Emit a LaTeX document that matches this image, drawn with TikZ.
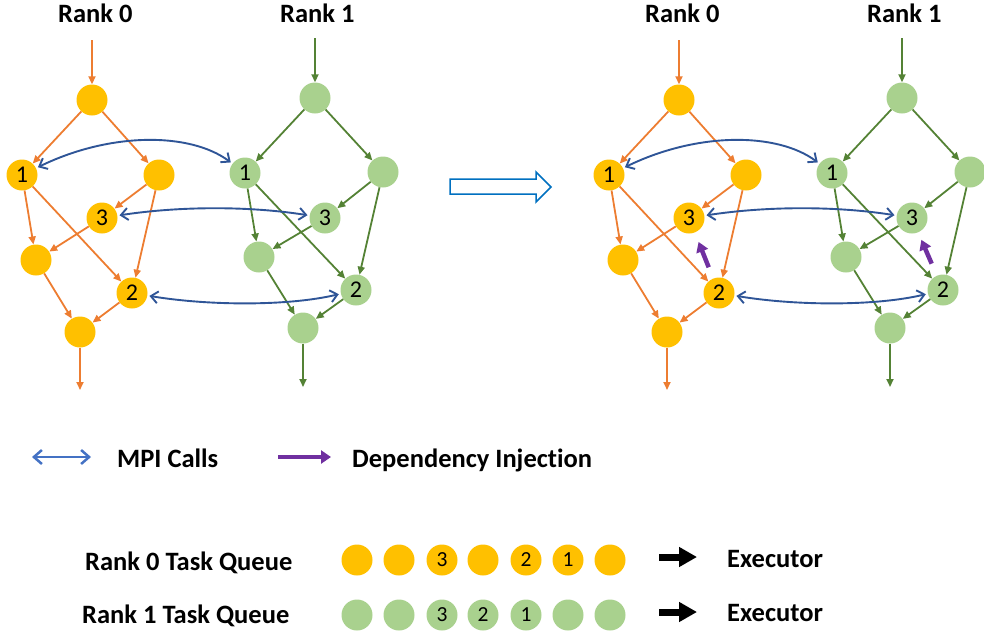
\documentclass[tikz,border=0pt]{standalone}
\usepackage{fontspec}
\setmainfont{Carlito}[Ligatures=NoCommon]
\usetikzlibrary{arrows.meta}
\definecolor{ogold}{HTML}{FFC000}
\definecolor{oedge}{HTML}{ED7D31}
\definecolor{gfill}{HTML}{A9D18E}
\definecolor{gedge}{HTML}{548235}
\definecolor{mpiblue}{HTML}{2F5597}
\definecolor{legblue}{HTML}{4472C4}
\definecolor{dpurple}{HTML}{7030A0}
\definecolor{bigblue}{HTML}{0070C0}
\tikzset{
  dot/.style={circle,minimum size=31pt,inner sep=0pt,font=\fontsize{24}{24}\selectfont},
  onode/.style={dot,fill=ogold},
  gnode/.style={dot,fill=gfill},
  qdot/.style={font=\fontsize{21.5}{21.5}\selectfont},
  oarr/.style={oedge,line width=1.8pt,-{Triangle[length=8pt,width=7pt]}},
  garr/.style={gedge,line width=1.8pt,-{Triangle[length=8pt,width=7pt]}},
  mpi/.style={mpiblue,line width=1.9pt,{Straight Barb[length=7pt,width=12pt]}-{Straight Barb[length=7pt,width=12pt]},shorten <=2pt,shorten >=2pt},
  dep/.style={dpurple,line width=4.5pt,-{Triangle[length=10pt,width=12pt]}},
  title/.style={font=\bfseries\fontsize{26.5}{30}\selectfont,inner sep=0pt,anchor=base west},
}
\newcommand\drawpair[2]{%
\begin{scope}[xshift=#2]
  \node[title] (#1t0) at (58,22) {Rank 0};
  \node[title] (#1t1) at (280,22) {Rank 1};
  % rank 0
  \coordinate (#1oin) at (92,40);
  \node[onode] (#1oa) at (92,100) {};
  \node[onode] (#1o1) at (22,175) {1};
  \node[onode] (#1ob) at (159,175) {};
  \node[onode] (#1o3) at (102,218) {3};
  \node[onode] (#1oc) at (36,260) {};
  \node[onode] (#1o2) at (132,293) {2};
  \node[onode] (#1od) at (80,332) {};
  \coordinate (#1oout) at (80,390);
  \draw[oarr] (#1oin) -- (#1oa);
  \draw[oarr] (#1oa) -- (#1o1);
  \draw[oarr] (#1oa) -- (#1ob);
  \draw[oarr] (#1o1) -- (#1oc);
  \draw[oarr] (#1o1) -- (#1o2);
  \draw[oarr] (#1ob) -- (#1o3);
  \draw[oarr] (#1ob) -- (#1o2);
  \draw[oarr] (#1o3) -- (#1oc);
  \draw[oarr] (#1oc) -- (#1od);
  \draw[oarr] (#1o2) -- (#1od);
  \draw[oarr] (#1od) -- (#1oout);
  % rank 1
  \coordinate (#1gin) at (315,38);
  \node[gnode] (#1ga) at (315,98) {};
  \node[gnode] (#1g1) at (245,173) {1};
  \node[gnode] (#1gb) at (383,172) {};
  \node[gnode] (#1g3) at (325,218) {3};
  \node[gnode] (#1gc) at (259,257) {};
  \node[gnode] (#1g2) at (356,290) {2};
  \node[gnode] (#1gd) at (303,328) {};
  \coordinate (#1gout) at (303,387);
  \draw[garr] (#1gin) -- (#1ga);
  \draw[garr] (#1ga) -- (#1g1);
  \draw[garr] (#1ga) -- (#1gb);
  \draw[garr] (#1g1) -- (#1gc);
  \draw[garr] (#1g1) -- (#1g2);
  \draw[garr] (#1gb) -- (#1g3);
  \draw[garr] (#1gb) -- (#1g2);
  \draw[garr] (#1g3) -- (#1gc);
  \draw[garr] (#1gc) -- (#1gd);
  \draw[garr] (#1g2) -- (#1gd);
  \draw[garr] (#1gd) -- (#1gout);
  % MPI calls
  \draw[mpi] (#1o1) .. controls (110,132) and (190,132) .. (#1g1);
  \draw[mpi] (#1o3) .. controls (180,206) and (250,206) .. (#1g3);
  \draw[mpi] (#1o2) .. controls (210,306) and (290,306) .. (#1g2);
\end{scope}}
\begin{document}
\begin{tikzpicture}[x=1pt,y=-1pt]
  \useasboundingbox (0,0) rectangle (984,635);
  \drawpair{L}{0pt}
  \drawpair{R}{587pt}
  % dependency injections
  \draw[dep,shorten <=12pt,shorten >=10pt] (Ro2) -- (Ro3);
  \draw[dep,shorten <=13pt,shorten >=8pt] (Rg2) -- (Rg3);
  % big hollow arrow
  \draw[bigblue,line width=1.5pt,fill=white,line join=miter]
    (450,179) -- (536,179) -- (536,172) -- (551,187) -- (536,202) -- (536,194) -- (450,194) -- cycle;
  % legend
  \coordinate (lm1) at (32,457);
  \coordinate (lm2) at (91,457);
  \draw[legblue,line width=2.5pt,{Straight Barb[length=8pt,width=14pt]}-{Straight Barb[length=8pt,width=14pt]}] (lm1) -- (lm2);
  \node[title] (lmpi) at (117,467) {MPI Calls};
  \coordinate (ld1) at (278,457);
  \coordinate (ld2) at (331,457);
  \draw[dpurple,line width=4pt,-{Triangle[length=10pt,width=13pt]}] (ld1) -- (ld2);
  \node[title] (ldep) at (352,467) {Dependency Injection};
  % task queues
  \node[title] (q0t) at (85,570) {Rank 0 Task Queue};
  \node[title] (q1t) at (82,623) {Rank 1 Task Queue};
  \node[onode] (q0a) at (357,560) {};
  \node[onode] (q0b) at (399,560) {};
  \node[onode,qdot] (q0c) at (442,560) {3};
  \node[onode] (q0d) at (483,560) {};
  \node[onode,qdot] (q0e) at (526,560) {2};
  \node[onode,qdot] (q0f) at (568,560) {1};
  \node[onode] (q0g) at (610,560) {};
  \node[gnode] (q1a) at (357,615) {};
  \node[gnode] (q1b) at (399,615) {};
  \node[gnode,qdot] (q1c) at (442,615) {3};
  \node[gnode,qdot] (q1d) at (483,615) {2};
  \node[gnode,qdot] (q1e) at (526,615) {1};
  \node[gnode] (q1f) at (568,615) {};
  \node[gnode] (q1g) at (610,615) {};
  \coordinate (e0a) at (659,557);
  \coordinate (e0b) at (697,557);
  \coordinate (e1a) at (659,612);
  \coordinate (e1b) at (697,612);
  \draw[black,line width=7pt,-{Triangle[length=18pt,width=19pt]}] (e0a) -- (e0b);
  \draw[black,line width=7pt,-{Triangle[length=18pt,width=19pt]}] (e1a) -- (e1b);
  \node[title] (ex0) at (727,567) {Executor};
  \node[title] (ex1) at (727,621) {Executor};
\end{tikzpicture}
\end{document}
